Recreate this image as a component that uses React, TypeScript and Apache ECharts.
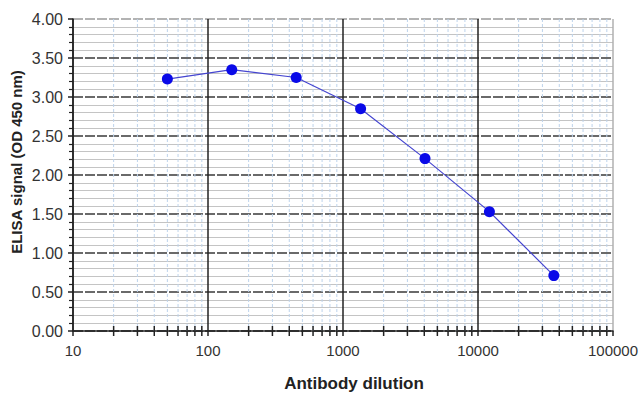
import React, { useEffect, useRef } from "react";
import * as echarts from "echarts";

const dilutions = [50, 150, 450, 1350, 4050, 12150, 36450];
const signals = [3.23, 3.35, 3.25, 2.85, 2.21, 1.53, 0.71];
const xTickLabels = ["10", "100", "1000", "10000", "100000"];
const decades = [10, 100, 1000, 10000];
const minorMultipliers = [2, 3, 4, 5, 6, 7, 8, 9];

const FONT = 'Arial, "Liberation Sans", sans-serif';

export default function App() {
  const ref = useRef<HTMLDivElement>(null);
  useEffect(() => {
    if (!ref.current) return;
    const chart = echarts.init(ref.current, undefined, { renderer: "svg" });
    const minorX: number[][] = [];
    decades.forEach((d) => minorMultipliers.forEach((m) => minorX.push([d * m, 0])));
    chart.setOption({
      animation: false,
      backgroundColor: "#ffffff",
      grid: { left: 73, right: 31, top: 19, bottom: 75 },
      xAxis: {
        type: "log",
        logBase: 10,
        min: 10,
        max: 100000,
        axisLine: { show: true, onZero: false, lineStyle: { color: "#222", width: 1.5 } },
        axisTick: { show: true, inside: false, length: 5, lineStyle: { color: "#222", width: 1.5 } },
        axisLabel: {
          color: "#333",
          fontSize: 15,
          fontFamily: FONT,
          margin: 12,
          formatter: (v: number) => {
            const i = Math.round(Math.log10(v)) - 1;
            return xTickLabels[i] ?? String(v);
          },
        },
        splitLine: {
          show: true,
          lineStyle: { color: ["#222", "#222", "#222", "#222", "#b0b0b0"], width: 1.5 },
        },
      },
      yAxis: {
        type: "value",
        min: 0,
        max: 4,
        interval: 0.5,
        axisLine: { show: true, lineStyle: { color: "#222", width: 1.5 } },
        axisTick: { show: true, length: 5, lineStyle: { color: "#222", width: 1.5 } },
        minorTick: { show: true, splitNumber: 5, length: 4, lineStyle: { color: "#222", width: 1.2 } },
        minorSplitLine: { show: true, lineStyle: { color: "#c4c4c4", width: 1 } },
        axisLabel: {
          color: "#333",
          fontSize: 16,
          fontFamily: FONT,
          margin: 10,
          formatter: (v: number) => v.toFixed(2),
        },
        splitLine: {
          show: true,
          lineStyle: {
            color: ["#222", "#3a3a3a", "#3a3a3a", "#3a3a3a", "#3a3a3a", "#3a3a3a", "#3a3a3a", "#3a3a3a", "#9a9a9a"],
            width: 1.5,
            type: [10, 2],
          },
        },
      },
      series: [
        {
          type: "custom",
          coordinateSystem: "cartesian2d",
          silent: true,
          z: 1,
          clip: false,
          data: minorX,
          renderItem: (params: any, api: any) => {
            const x = api.value(0);
            const top = api.coord([x, 4]);
            const bottom = api.coord([x, 0]);
            return {
              type: "group",
              children: [
                {
                  type: "line",
                  shape: { x1: top[0], y1: top[1], x2: bottom[0], y2: bottom[1] },
                  style: { stroke: "#bdd3ec", lineWidth: 1, lineDash: [3, 2] },
                },
                {
                  type: "line",
                  shape: { x1: bottom[0], y1: bottom[1] - 5, x2: bottom[0], y2: bottom[1] + 5 },
                  style: { stroke: "#222", lineWidth: 1.5 },
                },
              ],
            };
          },
        },
        {
          type: "line",
          z: 5,
          data: dilutions.map((d, i) => [d, signals[i]]),
          symbol: "circle",
          symbolSize: 11,
          itemStyle: { color: "#0a0ae8" },
          lineStyle: { color: "#4545d0", width: 1.2 },
        },
      ],
      graphic: [
        {
          type: "text",
          x: 16,
          y: 162,
          rotation: Math.PI / 2,
          style: {
            text: "ELISA signal (OD 450 nm)",
            font: `bold 15px ${FONT}`,
            fill: "#222",
            align: "center",
            verticalAlign: "middle",
          },
        },
        {
          type: "text",
          x: 354,
          y: 383,
          style: {
            text: "Antibody dilution",
            font: `bold 17px ${FONT}`,
            fill: "#222",
            align: "center",
            verticalAlign: "middle",
          },
        },
      ],
    });
    return () => chart.dispose();
  }, []);
  return (
    <div
      ref={ref}
      style={{ position: "fixed", left: 0, top: 0, width: 644, height: 406, background: "#fff" }}
    />
  );
}
